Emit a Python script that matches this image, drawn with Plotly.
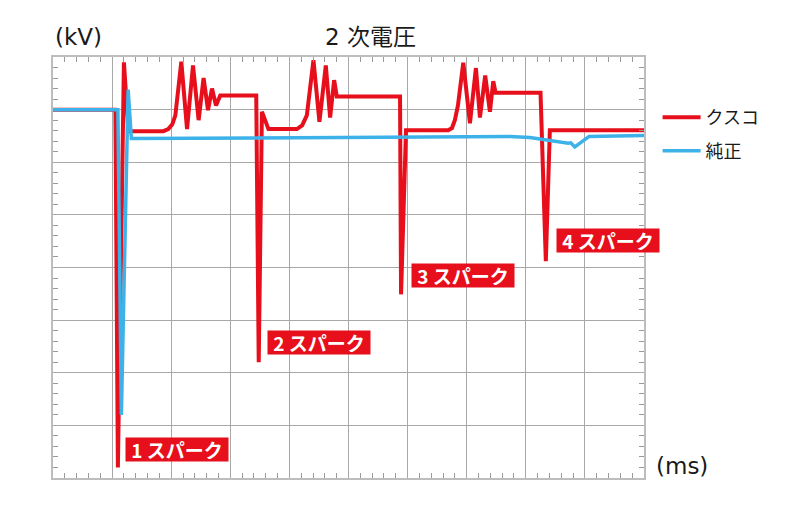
import plotly.graph_objects as go

# クスコ (red) : time in grid divisions, voltage in grid divisions
kusuko_t = [0, 1.056, 1.098, 1.200, 1.276, 1.867, 1.951, 2.019, 2.07, 2.171, 2.268, 2.369, 2.464,
            2.548, 2.623, 2.690, 2.758, 2.830, 3.439, 3.481, 3.535, 3.646, 4.126, 4.216, 4.295,
            4.407, 4.508, 4.616, 4.689, 4.757, 4.802, 5.872, 5.889, 5.973, 6.688, 6.751, 6.80,
            6.852, 6.942, 7.055, 7.156, 7.224, 7.313, 7.393, 7.449, 7.489, 8.249, 8.339, 8.407, 10.0]
kusuko_v = [7.00, 7.00, 0.20, 7.90, 6.59, 6.59, 6.63, 6.72, 6.89, 7.91, 6.63, 7.84, 6.80,
            7.60, 6.99, 7.40, 7.08, 7.27, 7.27, 2.20, 6.96, 6.63, 6.63, 6.70, 6.89,
            7.94, 6.77, 7.84, 6.85, 7.56, 7.25, 7.25, 3.49, 6.61, 6.61, 6.65, 6.80,
            7.08, 7.89, 6.74, 7.79, 6.85, 7.65, 6.96, 7.54, 7.32, 7.32, 4.12, 6.61, 6.61]

# 純正 (blue)
junsei_t = [0, 1.098, 1.157, 1.271, 1.326, 4.858, 7.731, 8.069, 8.293, 8.576, 8.716, 8.762, 8.829, 9.071, 10.0]
junsei_v = [7.00, 7.00, 1.20, 7.38, 6.45, 6.47, 6.49, 6.47, 6.43, 6.38, 6.36, 6.37, 6.29, 6.49, 6.51]

spark_labels = ["1 スパーク", "2 スパーク", "3 スパーク", "4 スパーク"]
spark_t = [2.104, 4.503, 6.931, 9.392]
spark_v = [0.540, 2.579, 3.839, 4.513]

series_names = ["クスコ", "純正"]

RED = "#E60F1B"
BLUE = "#3DB2E9"
FONT = "Noto Sans CJK JP"
LATIN = "DejaVu Sans, Noto Sans CJK JP"

fig = go.Figure()
fig.add_trace(go.Scatter(x=kusuko_t, y=kusuko_v, mode="lines", name=series_names[0],
                         legendgroup="a", line=dict(color=RED, width=4)))
fig.add_trace(go.Scatter(x=junsei_t, y=junsei_v, mode="lines", name=series_names[1],
                         legendgroup="b", line=dict(color=BLUE, width=3.5)))

for txt, t, v in zip(spark_labels, spark_t, spark_v):
    fig.add_annotation(x=t, y=v, xref="x", yref="y", text="<b>" + txt + "</b>", showarrow=False,
                       font=dict(family=FONT, size=19, color="white"), bgcolor=RED,
                       width=98, height=19, borderpad=2, align="center", valign="middle")

fig.add_annotation(x=0.5365, y=1, xref="paper", yref="paper", yshift=20, text="2 次電圧", showarrow=False,
                   font=dict(family=LATIN, size=23, color="#1a1a1a"), yanchor="middle")
fig.add_annotation(x=0, y=1, xref="paper", yref="paper", yshift=20, text="(kV)", showarrow=False,
                   font=dict(family=LATIN, size=23, color="#1a1a1a"), xanchor="left", yanchor="middle")
fig.add_annotation(x=1, y=0, xref="paper", yref="paper", xshift=10, yshift=12, text="(ms)", showarrow=False,
                   font=dict(family=LATIN, size=23, color="#1a1a1a"), xanchor="left", yanchor="middle")

axis_common = dict(showgrid=True, gridcolor="#a8a8a8", gridwidth=1, zeroline=False,
                   showline=True, linecolor="#bdbdbd", linewidth=1.5, mirror="allticks",
                   ticks="", showticklabels=False, dtick=1,
                   minor=dict(ticks="inside", dtick=0.2, ticklen=5, tickcolor="#9a9a9a", tickwidth=1,
                              showgrid=False))

fig.update_xaxes(range=[0, 10], **axis_common)
fig.update_yaxes(range=[0, 8], **axis_common)

fig.update_layout(
    width=800, height=510,
    margin=dict(l=44.5, r=163.7, t=48.7, b=40.3),
    plot_bgcolor="white", paper_bgcolor="white",
    font=dict(family=FONT),
    showlegend=True,
    legend=dict(x=1.023, y=0.90, xanchor="left", yanchor="top", traceorder="grouped",
                tracegroupgap=7, itemwidth=38, font=dict(family=FONT, size=18, color="#1a1a1a"),
                bgcolor="rgba(0,0,0,0)"),
)

fig.write_html("out.html")
